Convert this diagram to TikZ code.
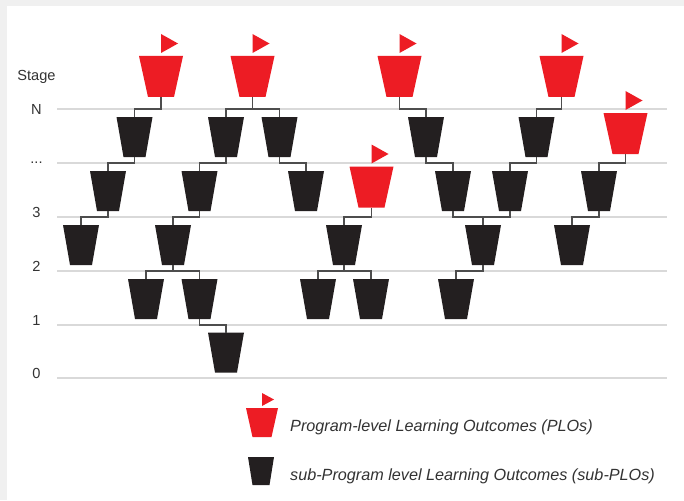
\documentclass[tikz,border=0pt]{standalone}
\usepackage{fontspec}
\setmainfont{Liberation Sans}
\usetikzlibrary{calc}
\definecolor{plored}{HTML}{ED1C24}
\definecolor{ploblack}{HTML}{231F20}
\definecolor{framegray}{HTML}{F0F0F0}
\definecolor{stagegray}{HTML}{D9D9D9}
\definecolor{conngray}{HTML}{4D4D4D}
\definecolor{textgray}{HTML}{333333}
\tikzset{
  cup/.style n args={4}{rectangle, inner sep=0pt, outer sep=0pt,
    minimum width=#1pt, minimum height=#2pt,
    path picture={\fill [#4] (path picture bounding box.north west)
      -- (path picture bounding box.north east)
      -- ($(path picture bounding box.south east)+(-#3,0)$)
      -- ($(path picture bounding box.south west)+(#3,0)$) -- cycle;}},
  plo/.style={cup={44}{41}{9}{plored}},
  subplo/.style={cup={36}{40}{7}{ploblack}},
  stageline/.style={stagegray, line width=1.2pt},
  conn/.style={conngray, line width=1.1pt},
  stagelabel/.style={anchor=base, inner sep=0pt, text=textgray, font=\fontsize{14.6}{16}\selectfont},
  legendtext/.style={anchor=base west, inner sep=0pt, text=textgray, font=\fontsize{16.2}{18}\selectfont\itshape}
}

\begin{document}
\begin{tikzpicture}[x=1pt, y=-1pt]
\newcommand{\joinstage}[3]{
\draw [conn] (#1.south) -- (#1.south |- #2) -| (#3.north);
}\newcommand{\flagon}[4]{
\fill [plored] ($(#1.north)+(0,-#2)$) -- ++(0,-#3) -- ++(#4,#3/2) -- cycle;
}%Frame
\useasboundingbox (0,0) rectangle (684,500);
\fill [framegray] (0,0) rectangle (684,500);
\fill [white] (7,6) rectangle (684,500);
%Stage lines
\foreach \n/\y in {N/109, D/163, 3/217, 2/271, 1/325, 0/378} {
 	\coordinate (line\n) at (57,\y);
 	\draw [stageline] (line\n) -- (667,\y);
}
%Stage labels
\node [stagelabel] (stage) at (36.5,81) {Stage};
\node [stagelabel] (labN) at (36.5,114) {N};
\node [stagelabel] (labD) at (36.5,163) {...};
\node [stagelabel] (lab3) at (36.5,217) {3};
\node [stagelabel] (lab2) at (36.5,271) {2};
\node [stagelabel] (lab1) at (36.5,325) {1};
\node [stagelabel] (lab0) at (36.5,378) {0};
%PLOs
\node [plo] (p1) at (161,76.5) {};
\node [plo] (p2) at (252.5,76.5) {};
\node [plo] (p3) at (399.5,76.5) {};
\node [plo] (p4) at (561.5,76.5) {};
\node [plo] (p5) at (625.5,133.5) {};
\node [plo] (p6) at (371.5,187) {};
\foreach \p in {p1,p2,p3,p4,p5,p6} {
 	\flagon{\p}{3}{19}{17}
}
%sub-PLOs between N and ...
\node [subplo] (a1) at (134.5,137) {};
\node [subplo] (a2) at (226,137) {};
\node [subplo] (a3) at (279.5,137) {};
\node [subplo] (a4) at (426,137) {};
\node [subplo] (a5) at (536.5,137) {};
%sub-PLOs between ... and 3
\node [subplo] (b1) at (108,191) {};
\node [subplo] (b2) at (199.5,191) {};
\node [subplo] (b3) at (306,191) {};
\node [subplo] (b4) at (453,191) {};
\node [subplo] (b5) at (510,191) {};
\node [subplo] (b6) at (599,191) {};
%sub-PLOs between 3 and 2
\node [subplo] (c1) at (81,245) {};
\node [subplo] (c2) at (173,245) {};
\node [subplo] (c3) at (344,245) {};
\node [subplo] (c4) at (483,245) {};
\node [subplo] (c5) at (572,245) {};
%sub-PLOs between 2 and 1
\node [subplo] (d1) at (146,299) {};
\node [subplo] (d2) at (199.5,299) {};
\node [subplo] (d3) at (318,299) {};
\node [subplo] (d4) at (371,299) {};
\node [subplo] (d5) at (456,299) {};
%sub-PLO between 1 and 0
\node [subplo] (e1) at (226,352.5) {};
%Connectors
\joinstage{p1}{lineN}{a1}
\joinstage{p2}{lineN}{a2}
\joinstage{p2}{lineN}{a3}
\joinstage{p3}{lineN}{a4}
\joinstage{p4}{lineN}{a5}
\joinstage{a1}{lineD}{b1}
\joinstage{a2}{lineD}{b2}
\joinstage{a3}{lineD}{b3}
\joinstage{a4}{lineD}{b4}
\joinstage{a5}{lineD}{b5}
\joinstage{p5}{lineD}{b6}
\joinstage{b1}{line3}{c1}
\joinstage{b2}{line3}{c2}
\joinstage{p6}{line3}{c3}
\joinstage{b4}{line3}{c4}
\joinstage{b5}{line3}{c4}
\joinstage{b6}{line3}{c5}
\joinstage{c2}{line2}{d1}
\joinstage{c2}{line2}{d2}
\joinstage{c3}{line2}{d3}
\joinstage{c3}{line2}{d4}
\joinstage{c4}{line2}{d5}
\joinstage{d2}{line1}{e1}
%Legend
\node [cup={32}{29}{6.5}{plored}] (legplo) at (262,422.5) {};
\flagon{legplo}{2}{13}{12}
\node [cup={26}{28}{4.5}{ploblack}] (legsub) at (261,471) {};
\node [legendtext] (legplotext) at (290,431.5) {Program-level Learning Outcomes (PLOs)};
\node [legendtext] (legsubtext) at (290,480) {sub-Program level Learning Outcomes (sub-PLOs)};
\end{tikzpicture}
\end{document}
